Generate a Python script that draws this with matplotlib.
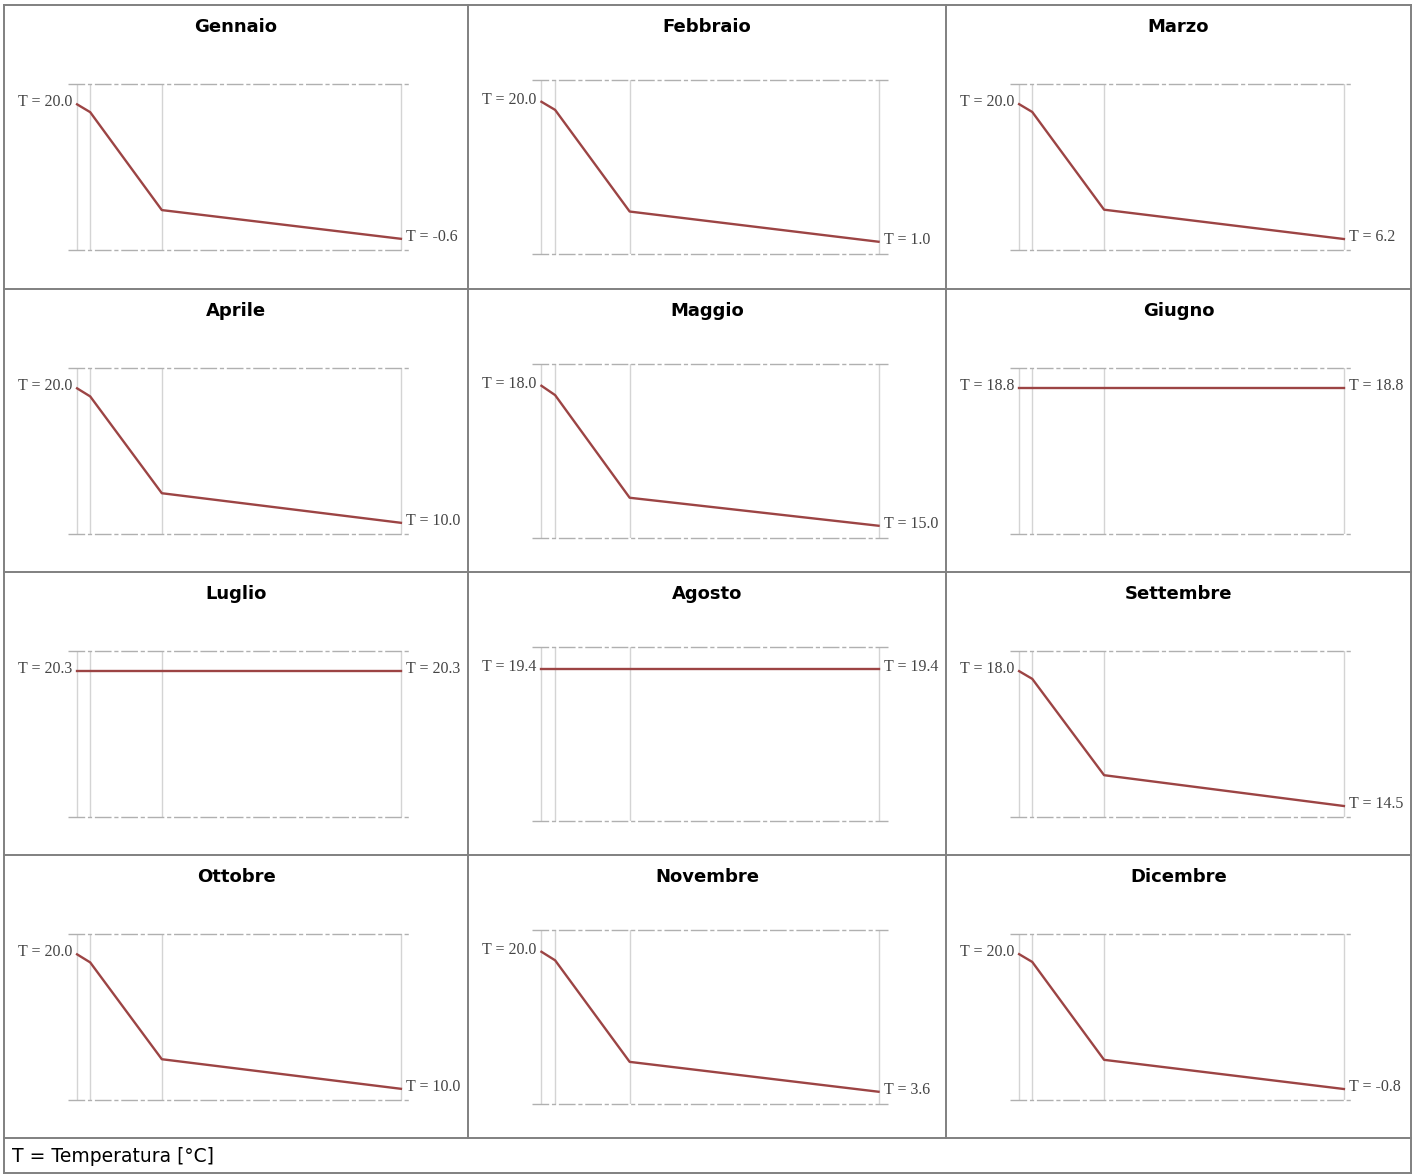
import matplotlib
matplotlib.use("Agg")
import matplotlib.pyplot as plt

# dati: profilo di temperatura nella parete, mese per mese
mesi = ["Gennaio", "Febbraio", "Marzo", "Aprile", "Maggio", "Giugno",
        "Luglio", "Agosto", "Settembre", "Ottobre", "Novembre", "Dicembre"]
x_interfacce = [0.0, 1.3, 8.4, 32.1]  # posizioni degli strati [cm]
t_interna = [20.0, 20.0, 20.0, 20.0, 18.0, 18.8, 20.3, 19.4, 18.0, 20.0, 20.0, 20.0]
t_strato1 = [18.8, 18.9, 19.2, 19.4, 17.8, 18.8, 20.3, 19.4, 17.8, 19.4, 19.0, 18.8]
t_strato2 = [3.8, 5.1, 9.2, 12.2, 15.6, 18.8, 20.3, 19.4, 15.3, 12.2, 7.1, 3.7]
t_esterna = [-0.6, 1.0, 6.2, 10.0, 15.0, 18.8, 20.3, 19.4, 14.5, 10.0, 3.6, -0.8]
legenda = "T = Temperatura [°C]"

W, H = 1420, 1174
col_x = [4, 468, 946, 1411]
row_y = [5, 289, 572, 855, 1138]
bordo = "#808080"

fig = plt.figure(figsize=(W / 100, H / 100), dpi=100)

# griglia della tabella
bg = fig.add_axes([0, 0, 1, 1])
bg.set_xlim(0, W)
bg.set_ylim(H, 0)
bg.axis("off")
for y in row_y + [1173]:
    bg.plot([col_x[0], col_x[-1]], [y, y], color=bordo, lw=1.4)
for x in [col_x[0], col_x[-1]]:
    bg.plot([x, x], [row_y[0], 1173], color=bordo, lw=1.4)
for x in col_x[1:-1]:
    bg.plot([x, x], [row_y[0], row_y[-1]], color=bordo, lw=1.4)
bg.text(12, 1157, legenda, fontsize=13.5, family="DejaVu Sans", va="center", ha="left")

for i, mese in enumerate(mesi):
    r, c = divmod(i, 3)
    cl, cr = col_x[c], col_x[c + 1]
    ct = row_y[r]
    bg.text((cl + cr) / 2, ct + 22, mese, fontsize=13, fontweight="bold",
            family="DejaVu Sans", ha="center", va="center")

    left = cl + 64
    right = cr - 58
    w = right - left
    h = w * 0.486
    yc = ct + 162
    top = yc - h / 2
    ax = fig.add_axes([left / W, 1 - (top + h) / H, w / W, h / H])
    ax.patch.set_alpha(0)
    ax.axis("off")

    temps = [t_interna[i], t_strato1[i], t_strato2[i], t_esterna[i]]
    tin, tout = t_interna[i], t_esterna[i]
    span = tin - tout
    if span <= 0:
        rng = 1.0
        ax.set_ylim(tin - 0.877 * rng, tin + 0.123 * rng)
    else:
        rng = span / 0.809
        ax.set_ylim(tout - 0.068 * rng, tin + 0.123 * rng)
    ax.set_xlim(-0.9, 33.0)

    for x in x_interfacce:
        ax.axvline(x, color="#d4d4d4", lw=1.0, zorder=1)
    for yy in [0, 1]:
        ax.axhline(ax.get_ylim()[yy], color="#b0b0b0", lw=1.0,
                   dashes=(12, 2, 3, 2), zorder=1, clip_on=False)

    ax.plot(x_interfacce, temps, color="#9c4444", lw=1.7, zorder=3,
            solid_joinstyle="round", clip_on=False)

    ax.annotate(f"T = {tin:.1f}", xy=(x_interfacce[0], tin), xytext=(-5, 2),
                textcoords="offset pixels", ha="right", va="center",
                fontsize=11.5, family="Liberation Serif", color="#444444",
                annotation_clip=False)
    ax.annotate(f"T = {tout:.1f}", xy=(x_interfacce[-1], tout), xytext=(5, 2),
                textcoords="offset pixels", ha="left", va="center",
                fontsize=11.5, family="Liberation Serif", color="#444444",
                annotation_clip=False)

fig.savefig("out.png", dpi=100)
